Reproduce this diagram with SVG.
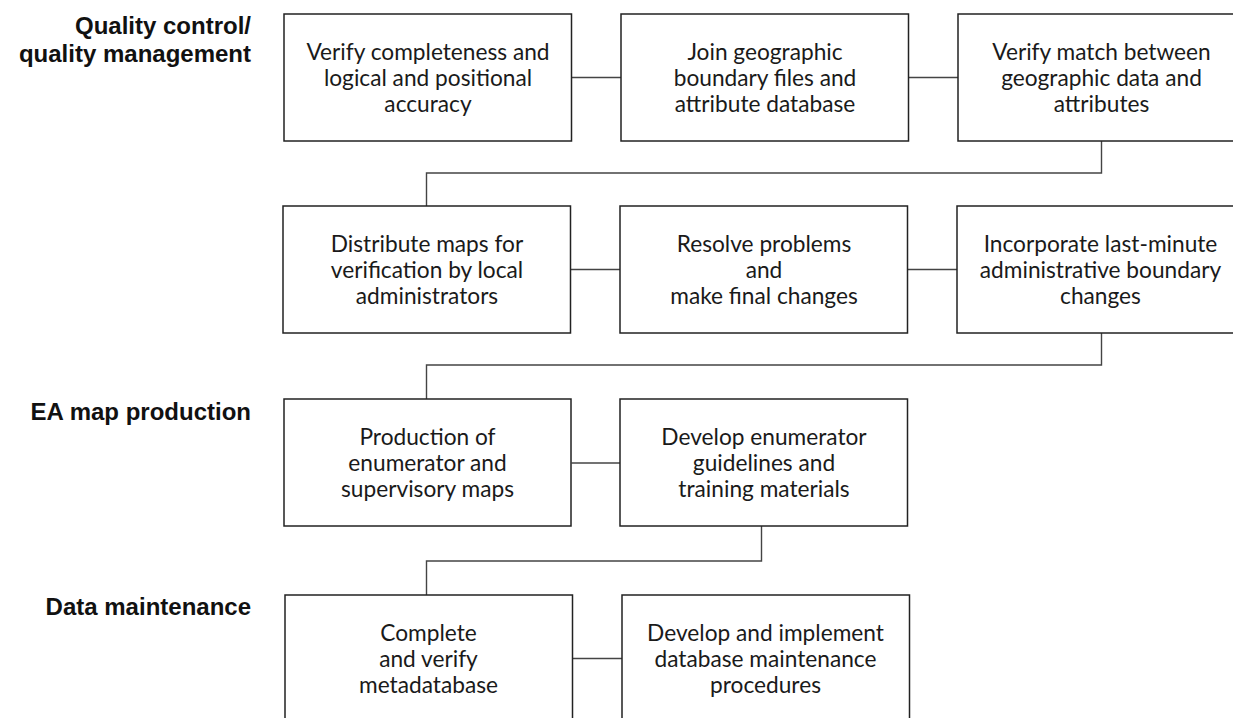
<svg xmlns="http://www.w3.org/2000/svg" width="1233" height="718" viewBox="0 0 1233 718">
<style>
.box{fill:#fff;stroke:#222;stroke-width:1.5}
.t{font-family:Lato,"Noto Sans",sans-serif;font-size:22.7px;fill:#1a1a1a;text-anchor:middle}
.lbl{font-family:"Liberation Sans",Arial,sans-serif;font-size:24px;font-weight:bold;fill:#111;text-anchor:end}
.c{fill:none;stroke:#444;stroke-width:1.4}
</style>
<rect width="1233" height="718" fill="#fff"/>
<g id="labels">
<text class="lbl" x="251" y="33.5">Quality control/</text>
<text class="lbl" x="251" y="61.5">quality management</text>
<text class="lbl" x="251" y="420">EA map production</text>
<text class="lbl" x="251" y="615">Data maintenance</text>
</g>
<g id="connectors">
<line class="c" x1="571.5" y1="77.5" x2="621" y2="77.5"/>
<line class="c" x1="908.5" y1="77.5" x2="958" y2="77.5"/>
<path class="c" d="M1101.5,141 V173 H426.5 V206"/>
<line class="c" x1="570.5" y1="269.5" x2="620" y2="269.5"/>
<line class="c" x1="907.5" y1="269.5" x2="957" y2="269.5"/>
<path class="c" d="M1101.5,333 V365 H426.5 V399"/>
<line class="c" x1="571.5" y1="463" x2="620" y2="463"/>
<path class="c" d="M761.5,526 V561 H426.5 V595"/>
<line class="c" x1="572.5" y1="658.5" x2="622" y2="658.5"/>
</g>
<g id="n1"><rect class="box" x="284" y="14" width="287.5" height="127"/>
<text class="t" x="428" y="60">Verify completeness and</text><text class="t" x="428" y="86">logical and positional</text><text class="t" x="428" y="112">accuracy</text></g>
<g id="n2"><rect class="box" x="621" y="14" width="287.5" height="127"/>
<text class="t" x="765" y="60">Join geographic</text><text class="t" x="765" y="86">boundary files and</text><text class="t" x="765" y="112">attribute database</text></g>
<g id="n3"><rect class="box" x="958" y="14" width="287.5" height="127"/>
<text class="t" x="1101.5" y="60">Verify match between</text><text class="t" x="1101.5" y="86">geographic data and</text><text class="t" x="1101.5" y="112">attributes</text></g>
<g id="n4"><rect class="box" x="283" y="206" width="287.5" height="127"/>
<text class="t" x="427" y="252">Distribute maps for</text><text class="t" x="427" y="278">verification by local</text><text class="t" x="427" y="304">administrators</text></g>
<g id="n5"><rect class="box" x="620" y="206" width="287.5" height="127"/>
<text class="t" x="764" y="252">Resolve problems</text><text class="t" x="764" y="278">and</text><text class="t" x="764" y="304">make final changes</text></g>
<g id="n6"><rect class="box" x="957" y="206" width="287.5" height="127"/>
<text class="t" x="1100.5" y="252">Incorporate last-minute</text><text class="t" x="1100.5" y="278">administrative boundary</text><text class="t" x="1100.5" y="304">changes</text></g>
<g id="n7"><rect class="box" x="284" y="399" width="287" height="127"/>
<text class="t" x="427.5" y="445">Production of</text><text class="t" x="427.5" y="471">enumerator and</text><text class="t" x="427.5" y="497">supervisory maps</text></g>
<g id="n8"><rect class="box" x="620" y="399" width="287.5" height="127"/>
<text class="t" x="764" y="445">Develop enumerator</text><text class="t" x="764" y="471">guidelines and</text><text class="t" x="764" y="497">training materials</text></g>
<g id="n9"><rect class="box" x="285" y="595" width="287.5" height="127"/>
<text class="t" x="428.5" y="641">Complete</text><text class="t" x="428.5" y="667">and verify</text><text class="t" x="428.5" y="693">metadatabase</text></g>
<g id="n10"><rect class="box" x="622" y="595" width="287.5" height="127"/>
<text class="t" x="765.5" y="641">Develop and implement</text><text class="t" x="765.5" y="667">database maintenance</text><text class="t" x="765.5" y="693">procedures</text></g>
</svg>
